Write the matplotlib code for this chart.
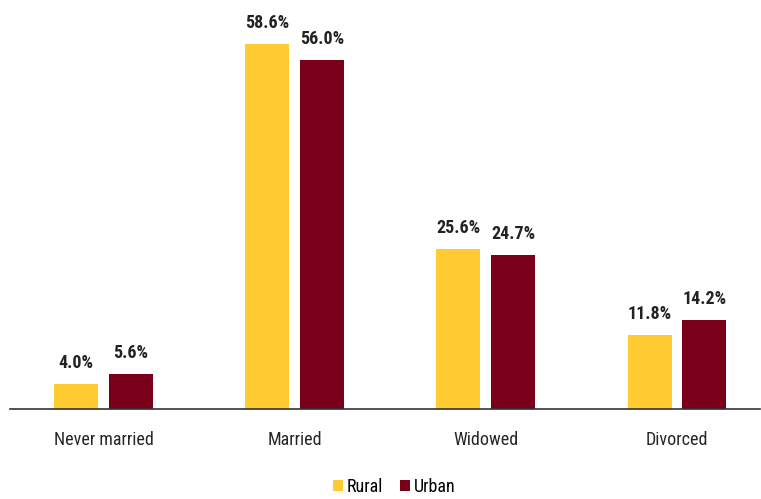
import matplotlib.pyplot as plt
import numpy as np

categories = ['Never married', 'Married', 'Widowed', 'Divorced']
rural = [4.0, 58.6, 25.6, 11.8]
urban = [5.6, 56.0, 24.7, 14.2]

plt.rcParams['font.family'] = ['Roboto Condensed', 'DejaVu Sans']

fig = plt.figure(figsize=(7.61, 4.99), dpi=100)
ax = fig.add_axes([10 / 761, 90 / 499, 750 / 761, 399 / 499])

x = np.arange(len(categories))
w = 0.23
b1 = ax.bar(x - 0.143, rural, w, color='#FFCB31', label='Rural')
b2 = ax.bar(x + 0.143, urban, w, color='#7A0019', label='Urban')

# value labels above each bar
for bars, vals in ((b1, rural), (b2, urban)):
    for r, v in zip(bars, vals):
        ax.annotate('%.1f%%' % v, (r.get_x() + r.get_width() / 2, v),
                    xytext=(0, 11.5), textcoords='offset points',
                    ha='center', va='baseline', fontsize=13, fontweight='bold',
                    color='#222222')

ax.set_xlim(-0.49, 3.435)
ax.set_ylim(0, 64)
ax.set_xticks(x)
ax.set_xticklabels(categories, fontsize=13, color='#262626')
ax.tick_params(axis='x', length=0, pad=16)
ax.set_yticks([])
for s in ['top', 'right', 'left']:
    ax.spines[s].set_visible(False)
ax.spines['bottom'].set_color('#333333')
ax.spines['bottom'].set_linewidth(1.2)

fig.legend(loc='lower center', ncol=2, frameon=False, fontsize=13,
           bbox_to_anchor=(0.518, -0.026), handlelength=0.55, handleheight=0.55,
           handletextpad=0.25, columnspacing=0.9)

fig.savefig('out.png', dpi=100)
